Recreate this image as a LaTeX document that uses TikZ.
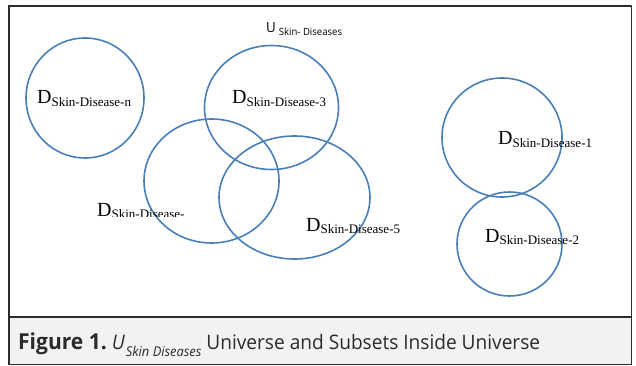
\documentclass[tikz,border=0pt]{standalone}
\usepackage{fontspec}
\setmainfont{Liberation Serif}
\newfontfamily\capfont[FakeStretch=0.955]{Open Sans}
\usetikzlibrary{shapes.geometric}
\definecolor{setblue}{RGB}{72,127,185}
\definecolor{capgray}{RGB}{241,242,243}
\definecolor{framegray}{RGB}{45,45,45}
\definecolor{capdark}{RGB}{45,42,43}
\tikzset{set/.style = {shape=ellipse,draw=setblue,line width=1.6pt,inner sep=0pt}}
\tikzset{setlabel/.style = {anchor=base west,inner sep=0pt,font=\fontsize{20}{20}\selectfont}}
\newcommand{\dset}[1]{D\raisebox{-2.5pt}{\fontsize{13}{13}\selectfont Skin-Disease-#1}}

\begin{document}
\begin{tikzpicture}[x=1pt,y=-1pt]
                \useasboundingbox (0,0) rectangle (636,366);
                % frame with caption bar
                \fill[capgray] (9,317) rectangle (631.5,364.5);
                \draw[framegray, line width=1.2pt] (9,6) rectangle (631.5,364.5);
                \draw[framegray, line width=1.2pt] (9,317) -- (631.5,317);

                % the sets
                \node[set, minimum width=118pt, minimum height=120pt] (Dn) at (85,98) {};
                \node[set, minimum width=134pt, minimum height=124pt] (D3) at (271.5,107.5) {};
                \node[set, minimum width=135pt, minimum height=124pt] (D4) at (211.5,181) {};
                \node[set, minimum width=151pt, minimum height=123pt] (D5) at (294.5,197.5) {};
                \node[set, minimum width=120pt, minimum height=119pt] (D1) at (502,137.5) {};
                \node[set, minimum width=105pt, minimum height=104pt] (D2) at (509.5,244) {};

                \node[setlabel] (Dn-label) at (37,104) {\dset{n}};
                \node[setlabel] (D3-label) at (232,104) {\dset{3}};
                \node[setlabel] (D5-label) at (306,231) {\dset{5}};
                \node[setlabel] (D1-label) at (498,145) {\dset{1}};
                \node[setlabel] (D2-label) at (485,242) {\dset{2}};
                \begin{scope}
                    \clip (90,190) rectangle (215,216.5);
                    \node[setlabel] (D4-label) at (97,216) {\dset{}};
                \end{scope}

                \node[anchor=base west, inner sep=0pt, font=\capfont\fontsize{14}{14}\selectfont] (U) at (266,32.5)
                    {U\hspace{3pt}\raisebox{-3pt}{\fontsize{10}{10}\selectfont Skin- Diseases}};

                \node[anchor=base west, inner sep=0pt, text=capdark, font=\capfont\fontsize{20}{20}\selectfont] (caption) at (18,349)
                    {{\fontsize{22}{22}\selectfont\bfseries Figure 1.}\hspace{5pt}\textit{U}\hspace{1pt}\raisebox{-7pt}{\fontsize{13.5}{13.5}\selectfont\itshape Skin Diseases}\hspace{5pt}Universe and Subsets Inside Universe};
\end{tikzpicture}
\end{document}
